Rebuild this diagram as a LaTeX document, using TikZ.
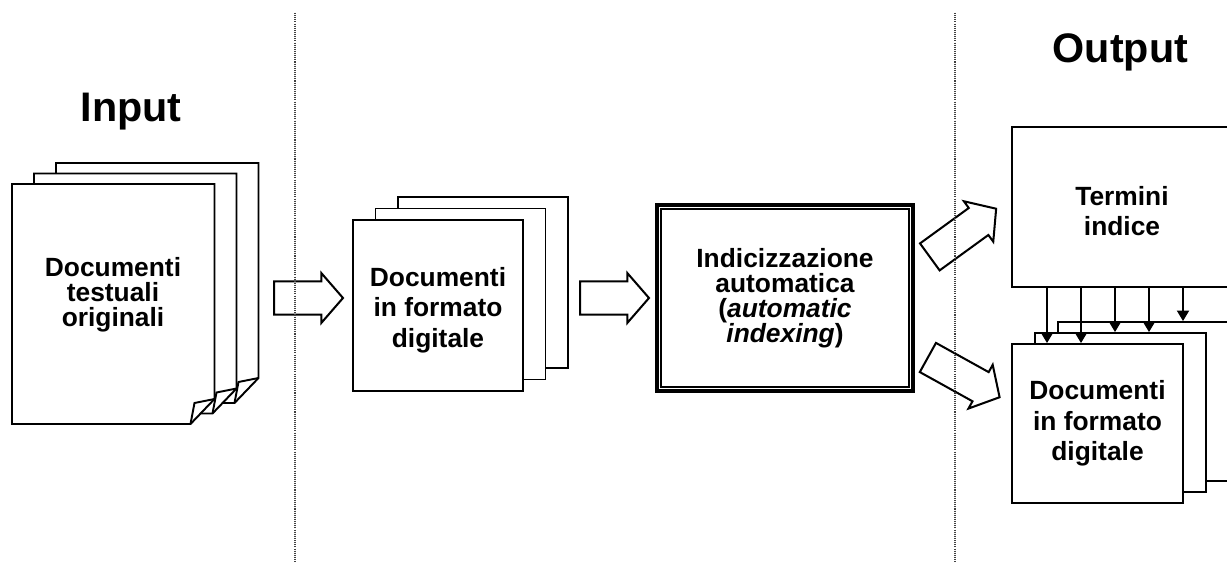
\documentclass[tikz,border=0pt]{standalone}
\usepackage{fontspec}
\setmainfont{Liberation Sans}
\usetikzlibrary{arrows.meta,shapes.arrows,calc}

\begin{document}
\begin{tikzpicture}[
  x=0.02cm, y=-0.02cm,
  sheet/.style={draw=black,fill=white,line width=1.1pt,line join=miter},
  card/.style={draw=black,fill=white,line width=1.1pt,minimum width=3.42cm,minimum height=3.42cm,inner sep=0pt},
  txt/.style={font=\fontsize{15}{14.2}\selectfont\bfseries,align=center},
  txtwide/.style={font=\fontsize{15}{17.4}\selectfont\bfseries,align=center},
  title/.style={font=\fontsize{23.5}{28}\selectfont\bfseries,anchor=base},
  divider/.style={draw=black!75,line width=0.6pt,dash pattern=on 0.6pt off 0.6pt},
  blockarrow/.style={single arrow,draw=black,fill=white,line width=1.15pt,inner xsep=0pt,inner ysep=0.24cm,minimum width=1cm,single arrow head extend=0.13cm,single arrow tip angle=98,anchor=tail},
  engine/.style={draw=black,fill=white,line width=2.3pt,minimum width=5.12cm,minimum height=3.72cm},
  feed/.style={draw=black,line width=0.7pt,-{Triangle[length=6pt,width=7pt]}}
]
\useasboundingbox (0,0) rectangle (1227,563);
\clip (0,0) rectangle (1227,563);

% input pages with folded corner
\foreach \k in {2,1,0} {
  \filldraw[sheet,shift={(22*\k,-10.5*\k)}] (12,184) -- (214.5,184) -- (214.5,399) -- (190.5,424) -- (12,424) -- cycle;
  \draw[sheet,fill=none,shift={(22*\k,-10.5*\k)}] (190.5,424) -- (194.5,403) -- (214.5,399);
}
\node[txt] (orig) at (113,295) {Documenti\\testuali\\originali};
\node[title] (inp) at (131,122) {Input};
\node[title] (outp) at (1120.5,63) {Output};

% digital copies
\node[card,minimum width=3.4cm] (dig3) at (483,282.5) {};
\node[card,minimum width=3.4cm] (dig2) at (460.5,294) {};
\node[card,minimum width=3.4cm] (dig1) at (438,305.5) {};
\node[txtwide] (digtxt) at (438,310) {Documenti\\in formato\\digitale};

\node[blockarrow,minimum height=1.38cm] (a1) at (273,298) {};
\node[blockarrow,minimum height=1.38cm] (a2) at (579,298) {};

\node[engine,txt] (idx) at (785,298) {Indicizzazione\\automatica\\(\textit{automatic}\\\textit{indexing})};
\draw[line width=0.65pt] ([shift={(6,6)}]idx.north west) rectangle ([shift={(-6,-6)}]idx.south east);

\node[blockarrow,minimum height=1.64cm,rotate=36] (a3) at (929,257.5) {};
\node[blockarrow,minimum height=1.64cm,rotate=-29] (a4) at (927,357) {};

% output
\node[card,minimum width=4.4cm,minimum height=3.2cm] (term) at (1122,207) {};
\node[txtwide] (termtxt) at (1122,211) {Termini\\indice};
\node[card,minimum height=3.18cm] (doc3) at (1143.5,401.5) {};
\node[card,minimum height=3.18cm] (doc2) at (1120.5,412.5) {};
\node[card,minimum height=3.18cm,txtwide] (doc1) at (1097.5,423.5) {Documenti\\in formato\\digitale};
\foreach \x/\t in {1047/doc1,1081/doc1,1115/doc2,1149/doc2,1183/doc3} {
  \draw[feed] (\x,0 |- term.south) -- (\x,0 |- \t.north);
}

\draw[divider] (295,13) -- (295,563);
\draw[divider] (955,13) -- (955,563);
\end{tikzpicture}
\end{document}
